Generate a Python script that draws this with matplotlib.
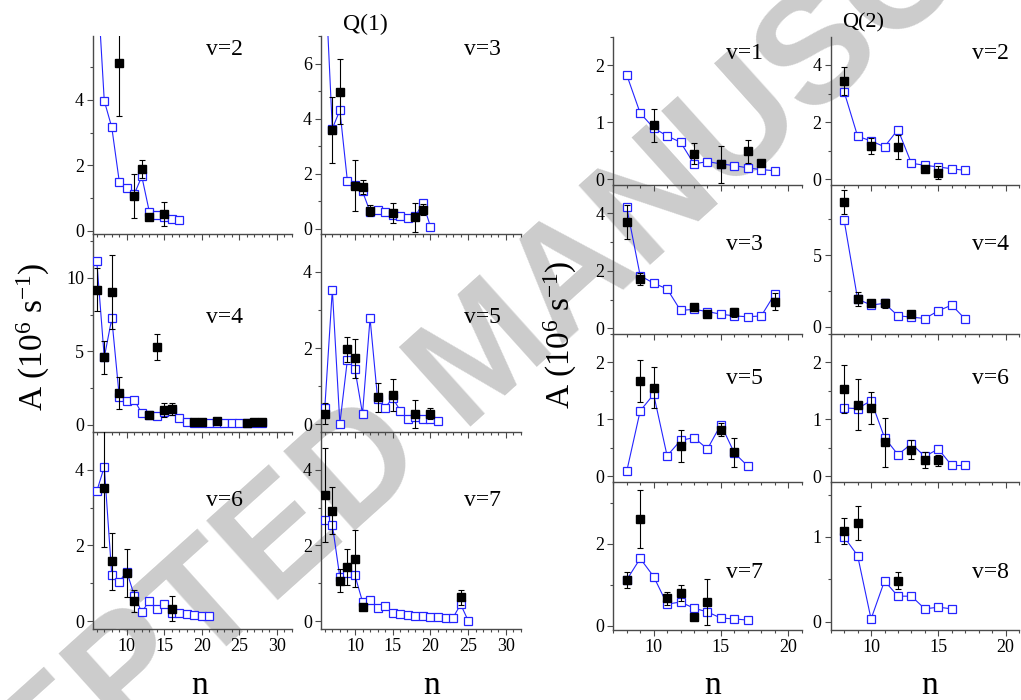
import matplotlib
matplotlib.use("Agg")
import matplotlib.pyplot as plt
from matplotlib.ticker import MultipleLocator

plt.rcParams['font.family'] = ['Liberation Serif', 'DejaVu Serif']
plt.rcParams['mathtext.fontset'] = 'custom'
plt.rcParams['mathtext.rm'] = 'Liberation Serif'
plt.rcParams['mathtext.it'] = 'Liberation Serif:italic'

# ---------------- Q(1) data ----------------
q1_v2_calc_n = [6, 7, 8, 9, 10, 11, 12, 13, 14, 15, 16, 17]
q1_v2_calc = [7.9, 3.97, 3.16, 1.50, 1.32, 1.12, 1.66, 0.58, 0.49, 0.42, 0.37, 0.32]
q1_v2_exp_n = [9, 11, 12, 13, 15]
q1_v2_exp = [5.14, 1.05, 1.88, 0.41, 0.51]
q1_v2_err = [1.63, 0.67, 0.27, 0.08, 0.36]

q1_v3_calc_n = [6, 7, 8, 9, 10, 11, 12, 13, 14, 15, 16, 17, 18, 19, 20]
q1_v3_calc = [9.5, 3.63, 4.30, 1.72, 1.59, 1.35, 0.61, 0.68, 0.59, 0.50, 0.44, 0.38, 0.44, 0.93, 0.07]
q1_v3_exp_n = [7, 8, 10, 11, 12, 15, 18, 19]
q1_v3_exp = [3.59, 4.98, 1.56, 1.50, 0.65, 0.56, 0.41, 0.68]
q1_v3_err = [1.19, 1.19, 0.92, 0.26, 0.20, 0.37, 0.52, 0.20]

q1_v4_calc_n = list(range(6, 29))
q1_v4_calc = [11.18, 4.58, 7.24, 1.91, 1.62, 1.69, 0.77, 0.64, 0.62, 0.84, 0.93, 0.48,
              0.15, 0.14, 0.14, 0.13, 0.13, 0.12, 0.12, 0.11, 0.11, 0.10, 0.10]
q1_v4_exp_n = [6, 7, 8, 9, 13, 14, 15, 16, 19, 20, 22, 26, 27, 28]
q1_v4_exp = [9.2, 4.58, 9.04, 2.16, 0.64, 5.31, 1.0, 1.07, 0.16, 0.16, 0.23, 0.14, 0.2, 0.16]
q1_v4_err = [1.46, 1.1, 2.5, 1.1, 0.2, 0.89, 0.5, 0.4, 0.1, 0.08, 0.1, 0.06, 0.08, 0.08]

q1_v5_calc_n = list(range(6, 22))
q1_v5_calc = [0.42, 3.53, 0.02, 1.70, 1.44, 0.28, 2.78, 0.67, 0.44, 0.69, 0.36, 0.15,
              0.20, 0.15, 0.13, 0.10]
q1_v5_exp_n = [6, 9, 10, 13, 15, 18, 20]
q1_v5_exp = [0.28, 1.97, 1.73, 0.71, 0.78, 0.27, 0.28]
q1_v5_err = [0.27, 0.33, 0.52, 0.38, 0.42, 0.37, 0.15]

q1_v6_calc_n = list(range(6, 22))
q1_v6_calc = [3.43, 4.07, 1.22, 1.05, 1.31, 0.68, 0.24, 0.55, 0.33, 0.46, 0.21, 0.21,
              0.19, 0.17, 0.14, 0.14]
q1_v6_exp_n = [7, 8, 10, 11, 16]
q1_v6_exp = [3.51, 1.58, 1.27, 0.55, 0.34]
q1_v6_err = [1.55, 0.75, 0.64, 0.29, 0.33]

q1_v7_calc_n = list(range(6, 26))
q1_v7_calc = [2.68, 2.55, 1.16, 1.28, 1.21, 0.52, 0.57, 0.36, 0.40, 0.21, 0.19, 0.17,
              0.15, 0.13, 0.11, 0.11, 0.10, 0.10, 0.45, 0.02]
q1_v7_exp_n = [6, 7, 8, 9, 10, 11, 24]
q1_v7_exp = [3.32, 2.92, 1.07, 1.43, 1.65, 0.39, 0.63]
q1_v7_err = [1.24, 0.62, 0.30, 0.47, 0.75, 0.05, 0.20]

# ---------------- Q(2) data ----------------
q2_v1_calc_n = list(range(8, 20))
q2_v1_calc = [1.83, 1.16, 0.90, 0.76, 0.65, 0.27, 0.31, 0.27, 0.24, 0.20, 0.17, 0.15]
q2_v1_exp_n = [10, 13, 15, 17, 18]
q2_v1_exp = [0.95, 0.45, 0.26, 0.49, 0.28]
q2_v1_err = [0.29, 0.18, 0.33, 0.20, 0.04]

q2_v2_calc_n = list(range(8, 18))
q2_v2_calc = [3.06, 1.51, 1.34, 1.14, 1.74, 0.56, 0.49, 0.43, 0.37, 0.31]
q2_v2_exp_n = [8, 10, 12, 14, 15]
q2_v2_exp = [3.44, 1.16, 1.13, 0.35, 0.23]
q2_v2_err = [0.49, 0.29, 0.42, 0.10, 0.23]

q2_v3_calc_n = list(range(8, 20))
q2_v3_calc = [4.21, 1.83, 1.57, 1.37, 0.62, 0.66, 0.58, 0.49, 0.43, 0.40, 0.43, 1.19]
q2_v3_exp_n = [8, 9, 13, 14, 16, 19]
q2_v3_exp = [3.70, 1.72, 0.73, 0.50, 0.55, 0.93]
q2_v3_err = [0.58, 0.20, 0.06, 0.05, 0.15, 0.30]

q2_v4_calc_n = list(range(8, 18))
q2_v4_calc = [7.43, 1.94, 1.52, 1.64, 0.77, 0.68, 0.58, 1.12, 1.52, 0.54]
q2_v4_exp_n = [8, 9, 10, 11, 13]
q2_v4_exp = [8.72, 1.92, 1.64, 1.64, 0.89]
q2_v4_err = [0.86, 0.50, 0.25, 0.30, 0.10]

q2_v5_calc_n = list(range(8, 18))
q2_v5_calc = [0.09, 1.15, 1.44, 0.36, 0.63, 0.68, 0.48, 0.91, 0.41, 0.18]
q2_v5_exp_n = [9, 10, 12, 15, 16]
q2_v5_exp = [1.68, 1.56, 0.54, 0.82, 0.42]
q2_v5_err = [0.37, 0.36, 0.28, 0.12, 0.25]

q2_v6_calc_n = list(range(8, 18))
q2_v6_calc = [1.20, 1.19, 1.33, 0.68, 0.38, 0.57, 0.35, 0.48, 0.19, 0.19]
q2_v6_exp_n = [8, 9, 10, 11, 13, 14, 15]
q2_v6_exp = [1.54, 1.26, 1.20, 0.60, 0.47, 0.29, 0.28]
q2_v6_err = [0.42, 0.45, 0.28, 0.43, 0.16, 0.14, 0.10]

q2_v7_calc_n = list(range(8, 18))
q2_v7_calc = [1.12, 1.64, 1.20, 0.53, 0.58, 0.43, 0.34, 0.19, 0.17, 0.14]
q2_v7_exp_n = [8, 9, 11, 12, 13, 14]
q2_v7_exp = [1.11, 2.60, 0.67, 0.80, 0.22, 0.58]
q2_v7_err = [0.20, 0.70, 0.15, 0.20, 0.05, 0.55]

q2_v8_calc_n = list(range(8, 17))
q2_v8_calc = [1.00, 0.78, 0.03, 0.48, 0.30, 0.30, 0.15, 0.17, 0.15]
q2_v8_exp_n = [8, 9, 12]
q2_v8_exp = [1.07, 1.17, 0.48]
q2_v8_err = [0.15, 0.20, 0.10]

BLUE = '#2424ff'
SPINE = '#4a4a4a'
W, H = 1021.0, 700.0

fig = plt.figure(figsize=(10.21, 7.0), dpi=100)

# watermark
fig.text(0.478, 0.49, 'ACCEPTED MANUSCRIPT', rotation=42, rotation_mode='anchor',
         ha='center', va='center', fontsize=112, color='#cccccc',
         family='Liberation Sans', weight='bold', zorder=-5)


def px_rect(x0, x1, ytop, ybot):
    return [x0 / W, 1 - ybot / H, (x1 - x0) / W, (ybot - ytop) / H]


def panel(rect, cn, cv, en, ev, ee, xlim, ylim, ymaj, ymin, label, lx, ly, show_x):
    ax = fig.add_axes(rect)
    ax.set_facecolor('none')
    ax.plot(cn, cv, '-s', color=BLUE, lw=0.8, ms=6.0, mfc='white', mec=BLUE, mew=0.9, zorder=3)
    ax.errorbar(en, ev, yerr=ee, fmt='s', color='black', ms=5.2, ecolor='black',
                elinewidth=0.8, capsize=2.5, capthick=0.8, zorder=4)
    ax.set_xlim(*xlim)
    ax.set_ylim(*ylim)
    ax.xaxis.set_major_locator(MultipleLocator(5))
    ax.xaxis.set_minor_locator(MultipleLocator(1))
    ax.yaxis.set_major_locator(MultipleLocator(ymaj))
    ax.yaxis.set_minor_locator(MultipleLocator(ymin))
    for s in ['top', 'right']:
        ax.spines[s].set_visible(False)
    for s in ['left', 'bottom']:
        ax.spines[s].set_color(SPINE)
        ax.spines[s].set_linewidth(1.0)
    ax.tick_params(which='major', direction='out', length=4, width=0.8, color=SPINE,
                   labelsize=13, pad=2.5)
    ax.tick_params(which='minor', direction='out', length=2.5, width=0.8, color=SPINE)
    if not show_x:
        ax.tick_params(labelbottom=False)
    ax.text(lx, ly, label, transform=ax.transAxes, fontsize=17, ha='left', va='center')
    return ax


# Q(1) group
L1 = (93, 292)
L2 = (321, 521)
R1 = (36, 234)
R2 = (234, 432)
R3 = (432, 629)
xl = (5.5, 32)
panel(px_rect(*L1, *R1), q1_v2_calc_n, q1_v2_calc, q1_v2_exp_n, q1_v2_exp, q1_v2_err,
      xl, (-0.1, 5.95), 2, 1, 'v=2', 0.57, 0.93, False)
panel(px_rect(*L2, *R1), q1_v3_calc_n, q1_v3_calc, q1_v3_exp_n, q1_v3_exp, q1_v3_err,
      xl, (-0.2, 7.0), 2, 1, 'v=3', 0.715, 0.93, False)
panel(px_rect(*L1, *R2), q1_v4_calc_n, q1_v4_calc, q1_v4_exp_n, q1_v4_exp, q1_v4_err,
      xl, (-0.5, 13.0), 5, 2.5, 'v=4', 0.57, 0.58, False)
panel(px_rect(*L2, *R2), q1_v5_calc_n, q1_v5_calc, q1_v5_exp_n, q1_v5_exp, q1_v5_err,
      xl, (-0.2, 4.99), 2, 1, 'v=5', 0.715, 0.58, False)
panel(px_rect(*L1, *R3), q1_v6_calc_n, q1_v6_calc, q1_v6_exp_n, q1_v6_exp, q1_v6_err,
      xl, (-0.2, 4.99), 2, 1, 'v=6', 0.57, 0.65, True)
panel(px_rect(*L2, *R3), q1_v7_calc_n, q1_v7_calc, q1_v7_exp_n, q1_v7_exp, q1_v7_err,
      xl, (-0.2, 4.99), 2, 1, 'v=7', 0.715, 0.65, True)

# Q(2) group
C1 = (613.3, 801.6)
C2 = (830.7, 1019.0)
S1 = (36.7, 185)
S2 = (185, 334)
S3 = (334, 482)
S4 = (482, 630)
xr = (7, 21)
panel(px_rect(*C1, *S1), q2_v1_calc_n, q2_v1_calc, q2_v1_exp_n, q2_v1_exp, q2_v1_err,
      xr, (-0.1, 2.5), 1, 0.5, 'v=1', 0.60, 0.89, False)
panel(px_rect(*C2, *S1), q2_v2_calc_n, q2_v2_calc, q2_v2_exp_n, q2_v2_exp, q2_v2_err,
      xr, (-0.2, 4.99), 2, 1, 'v=2', 0.75, 0.89, False)
panel(px_rect(*C1, *S2), q2_v3_calc_n, q2_v3_calc, q2_v3_exp_n, q2_v3_exp, q2_v3_err,
      xr, (-0.2, 4.99), 2, 1, 'v=3', 0.60, 0.60, False)
panel(px_rect(*C2, *S2), q2_v4_calc_n, q2_v4_calc, q2_v4_exp_n, q2_v4_exp, q2_v4_err,
      xr, (-0.5, 9.9), 5, 2.5, 'v=4', 0.75, 0.60, False)
panel(px_rect(*C1, *S3), q2_v5_calc_n, q2_v5_calc, q2_v5_exp_n, q2_v5_exp, q2_v5_err,
      xr, (-0.1, 2.5), 1, 0.5, 'v=5', 0.60, 0.70, False)
panel(px_rect(*C2, *S3), q2_v6_calc_n, q2_v6_calc, q2_v6_exp_n, q2_v6_exp, q2_v6_err,
      xr, (-0.1, 2.5), 1, 0.5, 'v=6', 0.75, 0.70, False)
panel(px_rect(*C1, *S4), q2_v7_calc_n, q2_v7_calc, q2_v7_exp_n, q2_v7_exp, q2_v7_err,
      xr, (-0.1, 3.5), 2, 1, 'v=7', 0.60, 0.39, True)
panel(px_rect(*C2, *S4), q2_v8_calc_n, q2_v8_calc, q2_v8_exp_n, q2_v8_exp, q2_v8_err,
      xr, (-0.1, 1.65), 1, 0.5, 'v=8', 0.75, 0.39, True)

# titles and axis labels
fig.text(365 / W, 1 - 24 / H, 'Q(1)', fontsize=17, ha='center', va='center')
fig.text(863 / W, 1 - 23 / H, 'Q(2)', fontsize=16, ha='center', va='center')
for xc in (200, 432, 713, 930):
    fig.text(xc / W, 1 - 694 / H, 'n', fontsize=24, ha='center', va='baseline')
ylab = 'A (10$^{6}$ s$^{-1}$)'
fig.text(33 / W, 1 - 337 / H, ylab, fontsize=24, rotation=90, ha='center', va='center')
fig.text(560 / W, 1 - 335 / H, ylab, fontsize=24, rotation=90, ha='center', va='center')

fig.savefig('out.png', dpi=100)
